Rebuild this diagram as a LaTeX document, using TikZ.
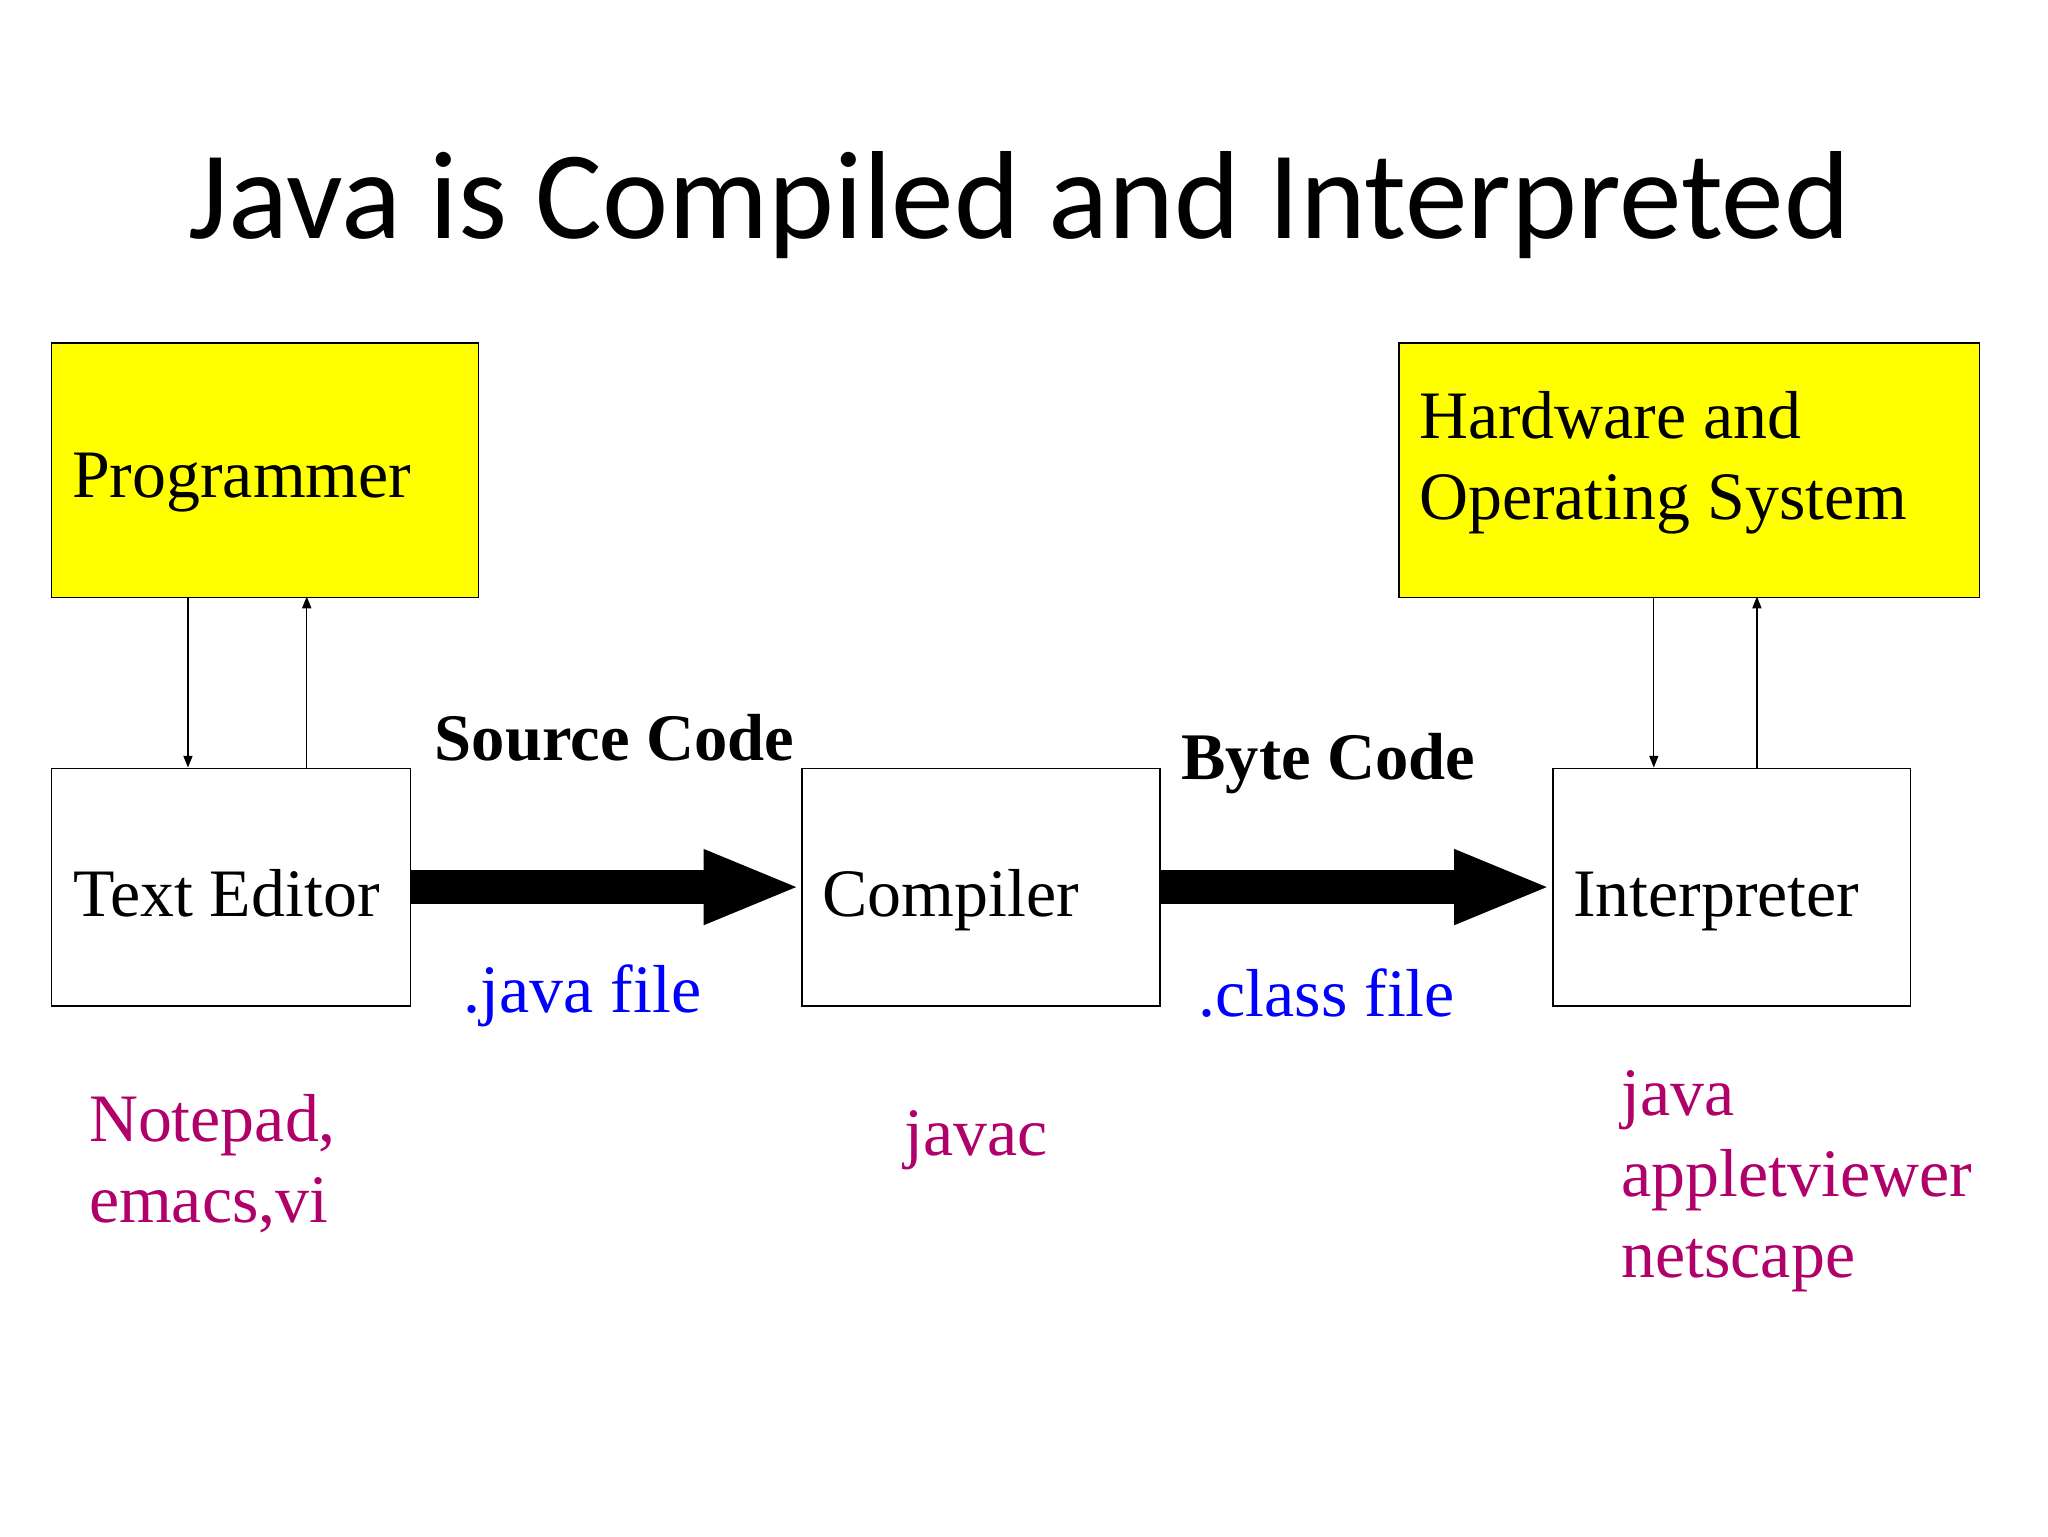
\documentclass[tikz,border=0pt]{standalone}
\usepackage{fontspec}
\setmainfont{Liberation Serif}
\newfontfamily\titlefont{Carlito}
\usetikzlibrary{arrows.meta}
\definecolor{boxyellow}{HTML}{FFFF00}
\definecolor{mag}{HTML}{B0006A}
\begin{document}
\begin{tikzpicture}[x=1pt,y=-1pt,
  box/.style={draw,line width=1.2pt,minimum width=#1,inner sep=0pt,anchor=north west},
  lbl/.style={anchor=base west,inner sep=0pt,font=\fontsize{52}{62}\selectfont},
  mg/.style={lbl,text=mag,align=left},
  bl/.style={lbl,text=blue},
  thin/.style={-{Triangle[length=9pt,width=7pt]},line width=1pt},
  thick/.style={-{Triangle[length=75pt,width=52pt]},line width=26pt}]
\useasboundingbox (0,0) rectangle (1569,1177);
\node[anchor=base,inner sep=0pt,font=\titlefont\fontsize{96}{100}\selectfont] (title) at (781,183) {Java is Compiled and Interpreted};
\node[box=327pt,minimum height=195pt,fill=boxyellow] (prog) at (39,262) {};
\node[box=445pt,minimum height=195pt,fill=boxyellow] (hw) at (1071,262) {};
\node[box=275pt,minimum height=182pt] (te) at (39,588) {};
\node[box=274pt,minimum height=182pt] (comp) at (614,588) {};
\node[box=274pt,minimum height=182pt] (interp) at (1189,588) {};
\node[lbl] (tprog) at (55,381) {Programmer};
\node[lbl,align=left,anchor=north west] (thw) at (1087,300) {Hardware and\\Operating System};
\node[lbl] (tte) at (56,702) {Text Editor};
\node[lbl] (tcomp) at (630,702) {Compiler};
\node[lbl] (tint) at (1205,702) {Interpreter};
\node[lbl,font=\bfseries\fontsize{51}{62}\selectfont] (src) at (333,583) {Source Code};
\node[lbl,font=\bfseries\fontsize{51}{62}\selectfont] (byte) at (905,597) {Byte Code};
\node[bl] (jf) at (355,776) {.java file};
\node[bl] (cf) at (918,779) {.class file};
\node[mg,anchor=north west] (np) at (68,838) {Notepad,\\emacs,vi};
\node[mg] (jc) at (693,885) {javac};
\node[mg,anchor=north west] (jv) at (1242,820) {java\\appletviewer\\netscape};
\coordinate (p1) at (144,457); \coordinate (e1) at (144,588);
\coordinate (p2) at (235,457); \coordinate (e2) at (235,588);
\coordinate (h1) at (1267,457); \coordinate (i1) at (1267,588);
\coordinate (h2) at (1346,457); \coordinate (i2) at (1346,588);
\draw[thin] (p1) -- (e1);
\draw[thin] (e2) -- (p2);
\draw[thin] (h1) -- (i1);
\draw[thin] (i2) -- (h2);
\draw[thick] (te.east) -- (comp.west);
\draw[thick] (comp.east) -- (interp.west);
\end{tikzpicture}
\end{document}
